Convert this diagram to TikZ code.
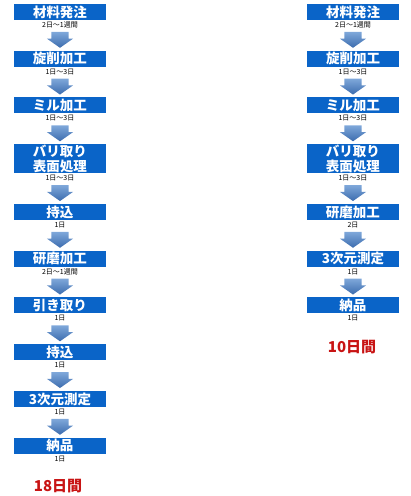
\documentclass[tikz,border=0pt]{standalone}
\usepackage{fontspec}
\setmainfont{Noto Sans CJK JP}
\usetikzlibrary{positioning,shapes.arrows}
\definecolor{boxblue}{HTML}{0A64C8}
\definecolor{arrowtop}{HTML}{7FA8DA}
\definecolor{arrowbot}{HTML}{3C6CAE}
\definecolor{totalred}{HTML}{C81414}
\begin{document}
\begin{tikzpicture}[x=1pt,y=1pt]
\useasboundingbox (0,0) rectangle (411,-496);
\tikzstyle{box}=[fill=boxblue, text=white, font=\fontsize{13.5}{14.5}\selectfont\bfseries, minimum height=16pt, minimum width=92pt, inner sep=0pt, align=center]
\tikzstyle{box2}=[box, minimum height=29pt]
\tikzstyle{days}=[font=\fontsize{7}{7}\selectfont, inner sep=0pt, text height=5pt, text depth=1pt]
\tikzstyle{down}=[single arrow, shape border rotate=270, minimum height=16pt, text width=17pt, single arrow head extend=4.5pt, single arrow tip angle=110, inner sep=0pt, top color=arrowtop, bottom color=arrowbot]
\tikzstyle{total}=[text=totalred, font=\fontsize{15}{16}\selectfont\bfseries]
% left column
\node[box](L1) at (60,-12) {材料発注};
\node[days](L1t) [below = 2pt of L1] {2日～1週間};
\node[down](L1a) [below = 3pt of L1t] {};
\node[box](L2) [below = 2.5pt of L1a] {旋削加工};
\node[days](L2t) [below = 2pt of L2] {1日～3日};
\node[down](L2a) [below = 3pt of L2t] {};
\node[box](L3) [below = 2.5pt of L2a] {ミル加工};
\node[days](L3t) [below = 2pt of L3] {1日～3日};
\node[down](L3a) [below = 3pt of L3t] {};
\node[box2](L4) [below = 2.5pt of L3a] {バリ取り\\表面処理};
\node[days](L4t) [below = 2pt of L4] {1日～3日};
\node[down](L4a) [below = 3pt of L4t] {};
\node[box](L5) [below = 2.5pt of L4a] {持込};
\node[days](L5t) [below = 2pt of L5] {1日};
\node[down](L5a) [below = 3pt of L5t] {};
\node[box](L6) [below = 2.5pt of L5a] {研磨加工};
\node[days](L6t) [below = 2pt of L6] {2日～1週間};
\node[down](L6a) [below = 3pt of L6t] {};
\node[box](L7) [below = 2.5pt of L6a] {引き取り};
\node[days](L7t) [below = 2pt of L7] {1日};
\node[down](L7a) [below = 3pt of L7t] {};
\node[box](L8) [below = 2.5pt of L7a] {持込};
\node[days](L8t) [below = 2pt of L8] {1日};
\node[down](L8a) [below = 3pt of L8t] {};
\node[box](L9) [below = 2.5pt of L8a] {3次元測定};
\node[days](L9t) [below = 2pt of L9] {1日};
\node[down](L9a) [below = 3pt of L9t] {};
\node[box](L10) [below = 2.5pt of L9a] {納品};
\node[days](L10t) [below = 2pt of L10] {1日};
\node[total](LT) at (58,-486) {18日間};
% right column
\node[box](R1) at (353,-12) {材料発注};
\node[days](R1t) [below = 2pt of R1] {2日～1週間};
\node[down](R1a) [below = 3pt of R1t] {};
\node[box](R2) [below = 2.5pt of R1a] {旋削加工};
\node[days](R2t) [below = 2pt of R2] {1日～3日};
\node[down](R2a) [below = 3pt of R2t] {};
\node[box](R3) [below = 2.5pt of R2a] {ミル加工};
\node[days](R3t) [below = 2pt of R3] {1日～3日};
\node[down](R3a) [below = 3pt of R3t] {};
\node[box2](R4) [below = 2.5pt of R3a] {バリ取り\\表面処理};
\node[days](R4t) [below = 2pt of R4] {1日～3日};
\node[down](R4a) [below = 3pt of R4t] {};
\node[box](R5) [below = 2.5pt of R4a] {研磨加工};
\node[days](R5t) [below = 2pt of R5] {2日};
\node[down](R5a) [below = 3pt of R5t] {};
\node[box](R6) [below = 2.5pt of R5a] {3次元測定};
\node[days](R6t) [below = 2pt of R6] {1日};
\node[down](R6a) [below = 3pt of R6t] {};
\node[box](R7) [below = 2.5pt of R6a] {納品};
\node[days](R7t) [below = 2pt of R7] {1日};
\node[total](RT) at (352,-347) {10日間};
\end{tikzpicture}
\end{document}
